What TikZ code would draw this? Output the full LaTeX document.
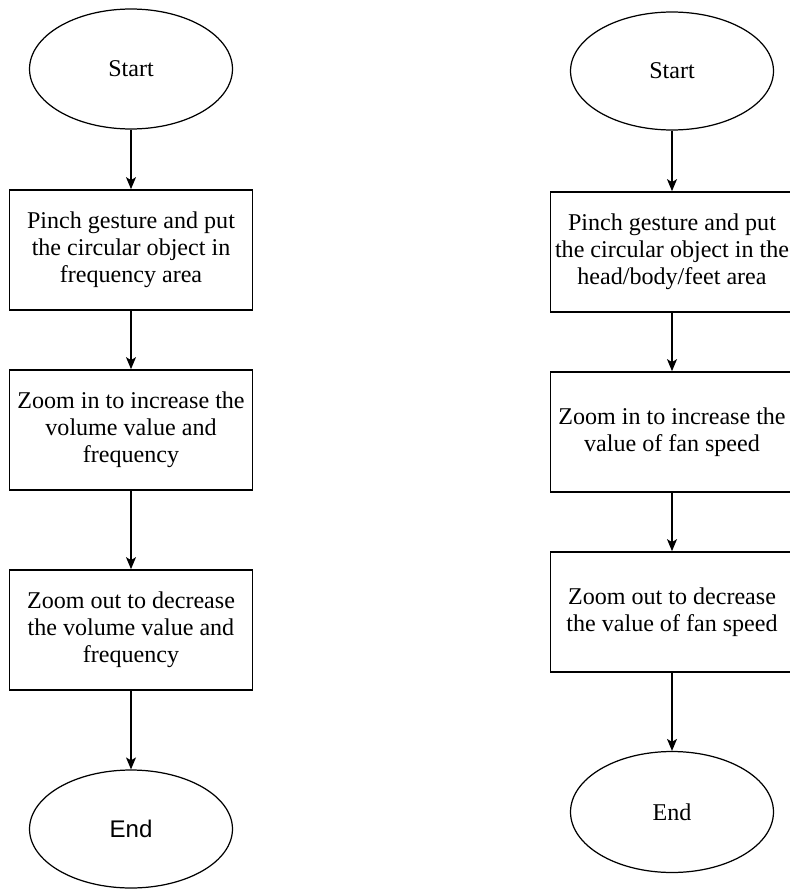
\documentclass[tikz,border=0pt]{standalone}
\usepackage{fontspec}
\setmainfont{Liberation Serif}
\newfontfamily\endfont{Liberation Sans}
\usetikzlibrary{arrows.meta,shapes.geometric}

\begin{document}
\begin{tikzpicture}[
    x=0.02cm, y=-0.02cm,
    term/.style={draw, ellipse, minimum width=4.06cm, minimum height=2.4cm, line width=0.7pt, font=\fontsize{13.7pt}{15.4pt}\selectfont},
    proc/.style={draw, rectangle, minimum width=4.86cm, minimum height=2.4cm, line width=1pt, align=center, inner sep=0pt, font=\fontsize{13.7pt}{15.4pt}\selectfont},
    arr/.style={-{Stealth[length=0.24cm, width=0.2cm, inset=0.06cm]}, line width=0.7pt, black},
]
\useasboundingbox (0,0) rectangle (790,889);

% Left: frequency flow
\node[term] (start1) at (131,69) {Start};
\node[proc] (pinch1) at (131,250) {Pinch gesture and put\\the circular object in\\frequency area};
\node[proc] (zin1) at (131,430) {Zoom in to increase the\\volume value and\\frequency};
\node[proc] (zout1) at (131,630) {Zoom out to decrease\\the volume value and\\frequency};
\node[term, minimum height=2.36cm] (end1) at (131,829) {\endfont End};

% Right: fan speed flow
\node[term, minimum height=2.36cm] (start2) at (672,71) {Start};
\node[proc] (pinch2) at (672,252) {Pinch gesture and put\\the circular object in the\\head/body/feet area};
\node[proc] (zin2) at (672,432) {Zoom in to increase the\\value of fan speed};
\node[proc] (zout2) at (672,612) {Zoom out to decrease\\the value of fan speed};
\node[term, minimum height=2.42cm] (end2) at (672,812) {End};

% Arrows
\draw[arr] (start1) -- (pinch1); \draw[arr] (pinch1) -- (zin1);
\draw[arr] (zin1) -- (zout1); \draw[arr] (zout1) -- (end1);
\draw[arr] (start2) -- (pinch2); \draw[arr] (pinch2) -- (zin2);
\draw[arr] (zin2) -- (zout2); \draw[arr] (zout2) -- (end2);
\end{tikzpicture}
\end{document}
